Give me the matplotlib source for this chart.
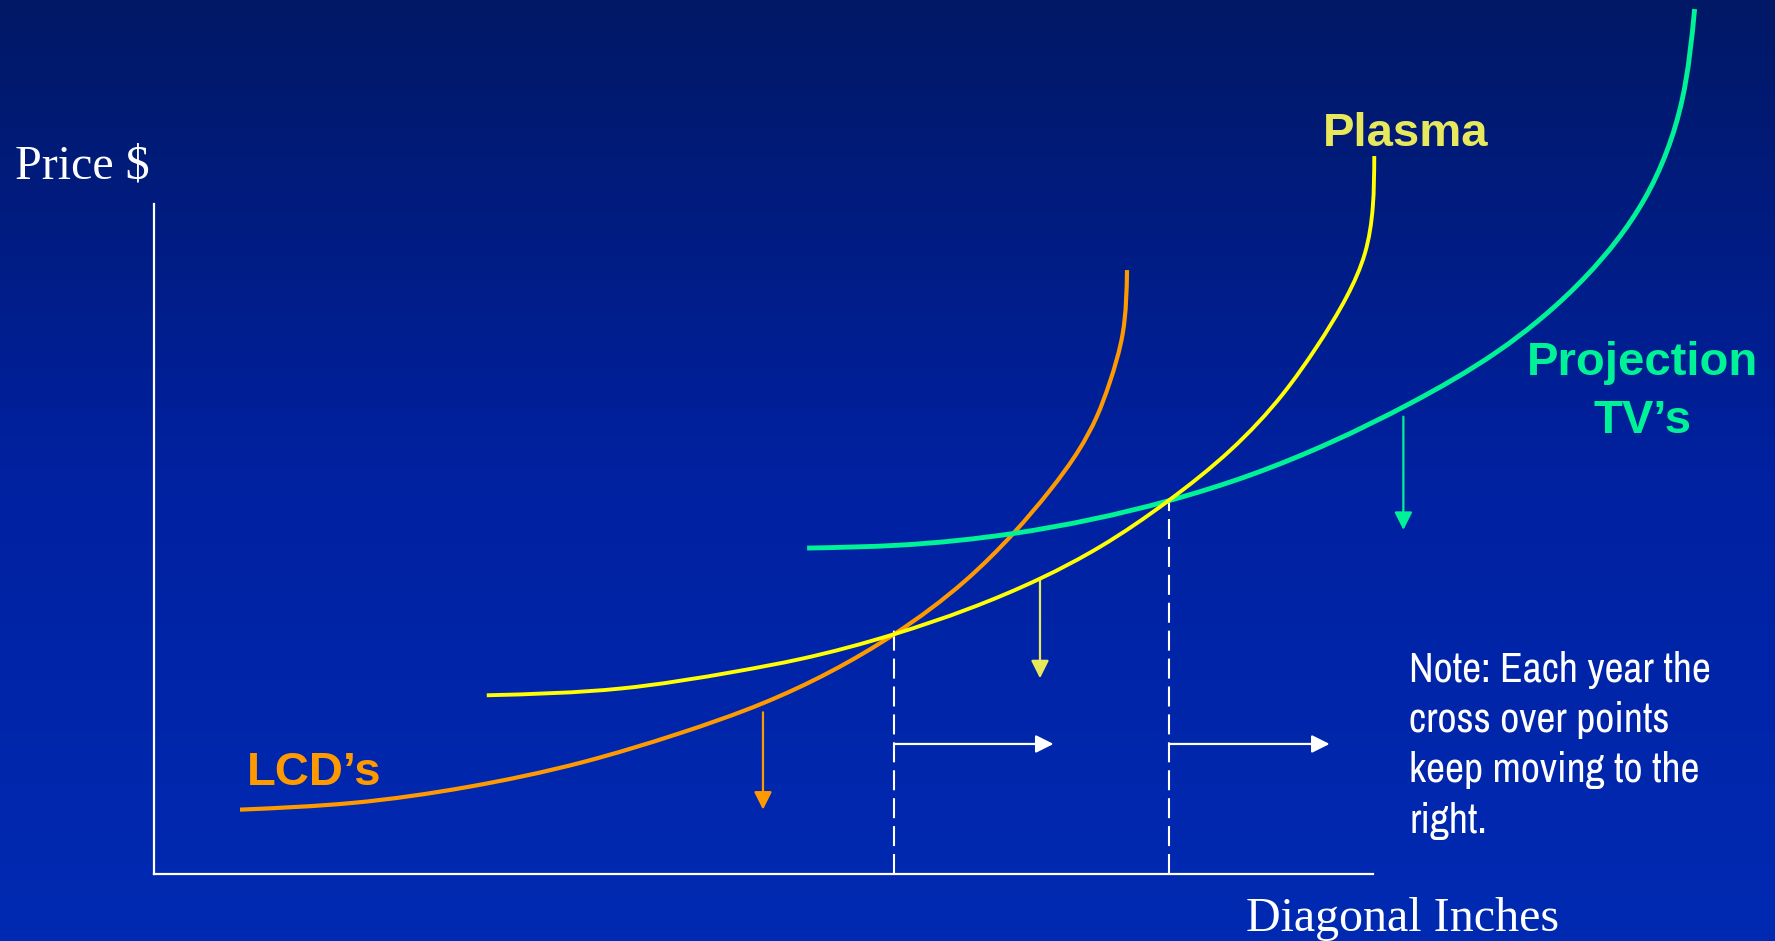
import numpy as np
import matplotlib
matplotlib.use("Agg")
import matplotlib.pyplot as plt
from matplotlib.colors import LinearSegmentedColormap
from matplotlib.path import Path
from matplotlib.patches import PathPatch
from matplotlib import font_manager

# ---- data (chart units: x = diagonal inches scale 0..100, y = price scale 0..100) ----
lcd_x = [7.057, 16.342, 25.720, 35.190, 42.990, 49.954, 60.724, 66.527, 70.483,
         73.500, 75.859, 77.326, 78.366, 79.461, 79.814]
lcd_y = [9.628, 10.642, 13.007, 16.723, 20.946, 25.507, 35.811, 43.750, 50.828,
         57.280, 63.260, 68.226, 73.209, 80.676, 90.118]

plasma_x = [27.298, 38.310, 47.725, 53.018, 60.724, 72.674, 77.595, 83.194, 88.301,
            92.637, 95.367, 97.827, 99.322, 99.972, 100.093]
plasma_y = [26.689, 27.703, 30.236, 32.095, 35.811, 44.088, 48.834, 55.693, 63.260,
            71.723, 78.666, 86.132, 92.601, 99.561, 107.128]

proj_x = [53.575, 61.189, 70.492, 83.194, 89.898, 103.027, 110.121, 117.456,
          122.191, 125.348, 126.369]
proj_y = [48.649, 49.088, 50.828, 55.693, 59.527, 70.220, 77.872, 89.189,
          100.507, 115.541, 129.054]

# price-drop arrows: (x, y_start, y_end)
drop_arrows = [(49.954, 24.155, 9.628), (72.674, 43.851, 29.223), (102.48, 68.243, 51.351)]
# cross-over points (x, y) and shift arrows (x_start, x_end, y)
crossovers = [(60.724, 36.40), (83.29, 55.693)]
shift_arrows = [(60.724, 73.788, 19.426), (83.29, 96.43, 19.426)]

labels = {"lcd": "LCD\u2019s", "plasma": "Plasma", "proj": ["Projection", "TV\u2019s"]}
note_lines = ["Note: Each year the", "cross over points", "keep moving to the", "right."]

ORANGE = "#ff9900"
YELLOW = "#ffff00"
PALE_YELLOW = "#e8e85c"
GREEN = "#00f296"
WHITE = "#ffffff"

W, H = 1775, 941
fig = plt.figure(figsize=(W / 100, H / 100), dpi=100)

# background gradient
bg = fig.add_axes([0, 0, 1, 1], zorder=0)
cmap = LinearSegmentedColormap.from_list("bg", ["#001865", "#0021a0", "#002ab3"])
grad = np.linspace(0, 1, 256).reshape(-1, 1)
bg.imshow(grad, aspect="auto", cmap=cmap, extent=[0, 1, 0, 1], origin="upper")
bg.set_axis_off()

# main axes (display ref 1568x831)
DW, DH = 1568.0, 831.0
left, right, top, bottom = 136, 1213, 180, 772
ax = fig.add_axes([left / DW, (DH - bottom) / DH, (right - left) / DW, (bottom - top) / DH], zorder=1)
ax.set_facecolor("none")
ax.set_xlim(0, 100)
ax.set_ylim(0, 100)
for s in ["top", "right"]:
    ax.spines[s].set_visible(False)
for s in ["left", "bottom"]:
    ax.spines[s].set_color(WHITE)
    ax.spines[s].set_linewidth(1.6)
ax.set_xticks([])
ax.set_yticks([])

SX, SY = (right - left) / 100.0, (bottom - top) / 100.0


def spline_path(xs, ys):
    """Natural cubic spline (chord-length parametrised) through the points, as Bezier segments."""
    P = np.column_stack([np.asarray(xs) * SX, np.asarray(ys) * SY])
    n = len(P) - 1
    h = np.sqrt(((P[1:] - P[:-1]) ** 2).sum(1))
    A = np.zeros((n + 1, n + 1))
    R = np.zeros((n + 1, 2))
    A[0, 0] = A[n, n] = 1.0
    for i in range(1, n):
        A[i, i - 1] = h[i - 1]
        A[i, i] = 2 * (h[i - 1] + h[i])
        A[i, i + 1] = h[i]
        R[i] = 6 * ((P[i + 1] - P[i]) / h[i] - (P[i] - P[i - 1]) / h[i - 1])
    M = np.linalg.solve(A, R)
    D = np.zeros_like(P)
    for i in range(n):
        D[i] = (P[i + 1] - P[i]) / h[i] - h[i] * (2 * M[i] + M[i + 1]) / 6
    D[n] = (P[n] - P[n - 1]) / h[n - 1] + h[n - 1] * (M[n - 1] + 2 * M[n]) / 6
    verts = [P[0]]
    codes = [Path.MOVETO]
    for i in range(n):
        verts += [P[i] + D[i] * h[i] / 3, P[i + 1] - D[i + 1] * h[i] / 3, P[i + 1]]
        codes += [Path.CURVE4] * 3
    V = np.array(verts)
    V[:, 0] /= SX
    V[:, 1] /= SY
    return Path(V, codes)


for xs, ys, c, lw, z in [(lcd_x, lcd_y, ORANGE, 3.0, 3), (proj_x, proj_y, GREEN, 3.5, 3),
                         (plasma_x, plasma_y, YELLOW, 2.8, 4)]:
    ax.add_patch(PathPatch(spline_path(xs, ys), facecolor="none", edgecolor=c, lw=lw,
                           clip_on=False, zorder=z, capstyle="butt"))

for (x, y) in crossovers:
    ax.plot([x, x], [0, y], color=WHITE, lw=1.5, dashes=(9.6, 3.8), clip_on=False, zorder=2)

arrow_cols = [ORANGE, PALE_YELLOW, GREEN]
for (x, y0, y1), c in zip(drop_arrows, arrow_cols):
    ax.annotate("", xy=(x, y1), xytext=(x, y0),
                arrowprops=dict(arrowstyle="-|>", color=c, lw=1.6, mutation_scale=27,
                                shrinkA=0, shrinkB=0), annotation_clip=False)
for (x0, x1, y) in shift_arrows:
    ax.annotate("", xy=(x1, y), xytext=(x0, y),
                arrowprops=dict(arrowstyle="-|>", color=WHITE, lw=1.6, mutation_scale=27,
                                shrinkA=0, shrinkB=0), annotation_clip=False)

serif = ["Liberation Serif", "DejaVu Serif"]
sans = ["Liberation Sans", "DejaVu Sans"]

# pick a narrow font for the note if one is installed
narrow_name = None
for f in font_manager.fontManager.ttflist:
    nm = f.name
    if ("Narrow" in nm or "Condensed" in nm) and f.style == "normal" and f.weight in (400, "normal", "regular"):
        narrow_name = nm
        break
if narrow_name is not None:
    note_family, note_size = [narrow_name, "DejaVu Sans"], 30
else:
    note_family, note_size = sans, 25

fig.text(13 / DW, 1 - 158 / DH, "Price $", color=WHITE, fontsize=34.6, family=serif, va="baseline")
fig.text(1101 / DW, 1 - 822.5 / DH, "Diagonal Inches", color=WHITE, fontsize=34.6, family=serif, va="baseline")
fig.text(1169 / DW, 1 - 128.7 / DH, labels["plasma"], color=PALE_YELLOW, fontsize=34, family=sans,
         weight="bold", va="baseline")
fig.text(1451 / DW, 1 - 331 / DH, labels["proj"][0], color=GREEN, fontsize=34, family=sans,
         weight="bold", va="baseline", ha="center")
fig.text(1451 / DW, 1 - 382.7 / DH, labels["proj"][1], color=GREEN, fontsize=34, family=sans,
         weight="bold", va="baseline", ha="center")
fig.text(218 / DW, 1 - 692.9 / DH, labels["lcd"], color=ORANGE, fontsize=34, family=sans,
         weight="bold", va="baseline")

note_base = [681.7, 731.7, 782.0, 833.0]
for line, yb in zip(note_lines, note_base):
    fig.text(1245 / DW, 1 - yb / H, line, color=WHITE, fontsize=note_size, family=note_family,
             va="baseline")

fig.savefig("out.png", dpi=100)
